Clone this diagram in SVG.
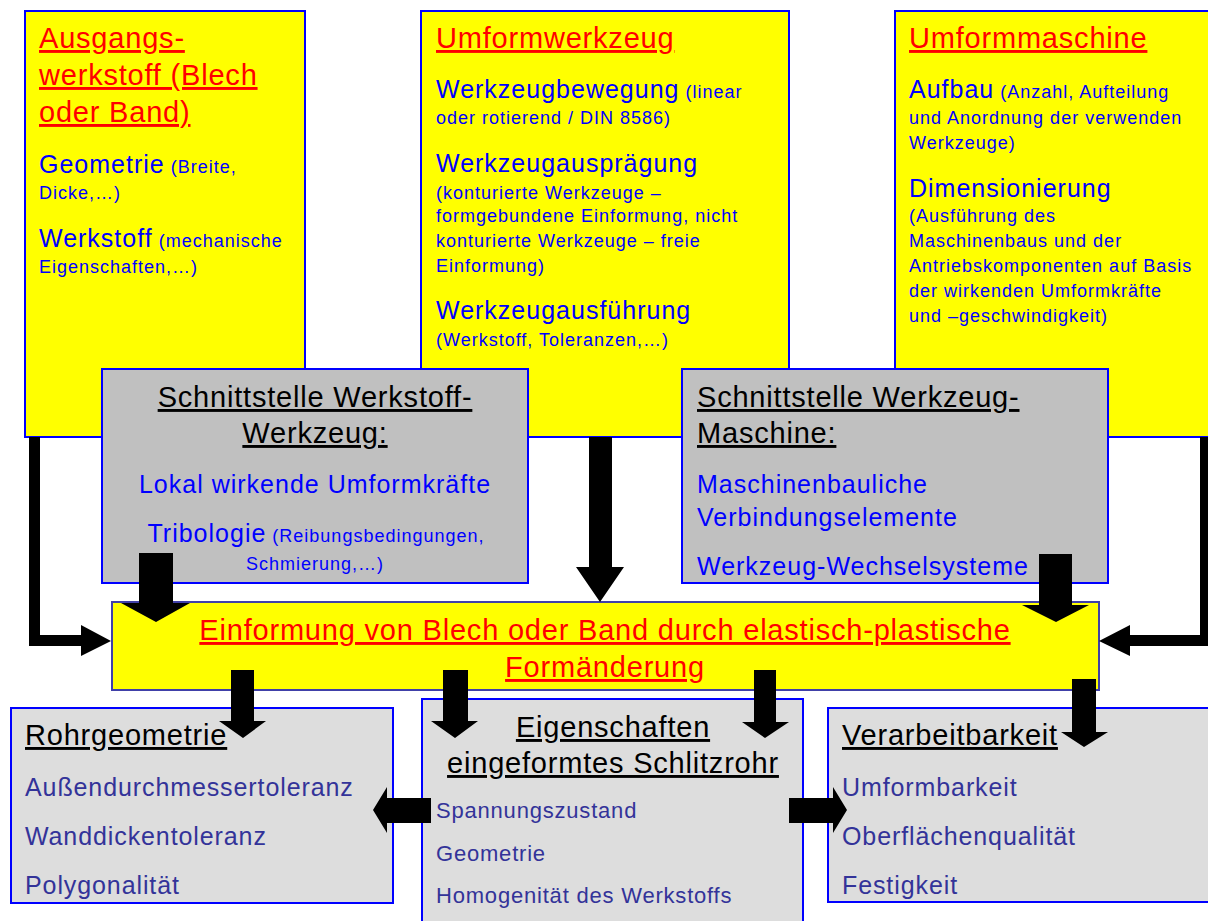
<svg xmlns="http://www.w3.org/2000/svg" width="1208" height="921" viewBox="0 0 1208 921">
  <style>
    text { font-family: "Liberation Sans", Arial, sans-serif; }
    .by { fill: #FFFF00; stroke: #0000FF; stroke-width: 2; }
    .bg { fill: #C0C0C0; stroke: #0000FF; stroke-width: 2; }
    .bl { fill: #DDDDDD; stroke: #0000FF; stroke-width: 2; }
    .bc { fill: #FFFF00; stroke: #4040A8; stroke-width: 2; }
    .h { font-size: 29px; letter-spacing: 0.8px; text-decoration: underline; }
    .red { fill: #FF0000; }
    .blk { fill: #000000; }
    .b { fill: #0000FF; }
    .m { font-size: 25px; letter-spacing: 1px; }
    .s { font-size: 18px; letter-spacing: 1px; }
    .l { fill: #333399; font-size: 25px; letter-spacing: 0.9px; }
    .ls { fill: #333399; font-size: 22px; letter-spacing: 0.8px; }
    .c { text-anchor: middle; }
    .arrow { fill: #000000; }
  </style>

  <!-- Upper row: material, tool, machine -->
  <g id="node-ausgangswerkstoff">
    <rect class="by" x="25" y="11" width="280" height="426"/>
    <text class="h red" x="39" y="48">Ausgangs-</text>
    <text class="h red" x="39" y="85">werkstoff (Blech</text>
    <text class="h red" x="39" y="122">oder Band)</text>
    <text class="b" x="39" y="173"><tspan class="m">Geometrie</tspan><tspan class="s"> (Breite,</tspan></text>
    <text class="b s" x="39" y="199">Dicke,…)</text>
    <text class="b" x="39" y="247"><tspan class="m">Werkstoff</tspan><tspan class="s"> (mechanische</tspan></text>
    <text class="b s" x="39" y="273">Eigenschaften,…)</text>
  </g>

  <g id="node-umformwerkzeug">
    <rect class="by" x="421" y="11" width="368" height="426"/>
    <text class="h red" x="436" y="48">Umformwerkzeug</text>
    <text class="b" x="436" y="98"><tspan class="m">Werkzeugbewegung</tspan><tspan class="s"> (linear</tspan></text>
    <text class="b s" x="436" y="124">oder rotierend / DIN 8586)</text>
    <text class="b m" x="436" y="172">Werkzeugausprägung</text>
    <text class="b s" x="436" y="199">(konturierte Werkzeuge –</text>
    <text class="b s" x="436" y="222">formgebundene Einformung, nicht</text>
    <text class="b s" x="436" y="247">konturierte Werkzeuge – freie</text>
    <text class="b s" x="436" y="272">Einformung)</text>
    <text class="b m" x="436" y="319">Werkzeugausführung</text>
    <text class="b s" x="436" y="346">(Werkstoff, Toleranzen,…)</text>
  </g>

  <g id="node-umformmaschine">
    <rect class="by" x="895" y="11" width="330" height="426"/>
    <text class="h red" x="909" y="48">Umformmaschine</text>
    <text class="b" x="909" y="98"><tspan class="m">Aufbau</tspan><tspan class="s"> (Anzahl, Aufteilung</tspan></text>
    <text class="b s" x="909" y="124">und Anordnung der verwenden</text>
    <text class="b s" x="909" y="149">Werkzeuge)</text>
    <text class="b m" x="909" y="197">Dimensionierung</text>
    <text class="b s" x="909" y="222">(Ausführung des</text>
    <text class="b s" x="909" y="247">Maschinenbaus und der</text>
    <text class="b s" x="909" y="272">Antriebskomponenten auf Basis</text>
    <text class="b s" x="909" y="297">der wirkenden Umformkräfte</text>
    <text class="b s" x="909" y="322">und –geschwindigkeit)</text>
  </g>

  <!-- Interfaces -->
  <g id="node-schnittstelle-werkstoff-werkzeug">
    <rect class="bg" x="102" y="369" width="426" height="214"/>
    <text class="h blk c" x="315" y="407">Schnittstelle Werkstoff-</text>
    <text class="h blk c" x="315" y="443">Werkzeug:</text>
    <text class="b m c" x="315" y="493">Lokal wirkende Umformkräfte</text>
    <text class="b c" x="316" y="542"><tspan class="m">Tribologie</tspan><tspan class="s"> (Reibungsbedingungen,</tspan></text>
    <text class="b s c" x="315" y="570">Schmierung,…)</text>
  </g>

  <g id="node-schnittstelle-werkzeug-maschine">
    <rect class="bg" x="682" y="369" width="426" height="214"/>
    <text class="h blk" x="697" y="407">Schnittstelle Werkzeug-</text>
    <text class="h blk" x="697" y="443">Maschine:</text>
    <text class="b m" x="697" y="493">Maschinenbauliche</text>
    <text class="b m" x="697" y="526">Verbindungselemente</text>
    <text class="b m" x="697" y="575">Werkzeug-Wechselsysteme</text>
  </g>

  <!-- Forming process -->
  <g id="node-einformung">
    <rect class="bc" x="112" y="602" width="987" height="88"/>
    <text class="h red c" x="605" y="640">Einformung von Blech oder Band durch elastisch-plastische</text>
    <text class="h red c" x="605" y="677">Formänderung</text>
  </g>

  <!-- Results -->
  <g id="node-rohrgeometrie">
    <rect class="bl" x="11" y="708" width="382" height="195"/>
    <text class="h blk" x="25" y="745">Rohrgeometrie</text>
    <text class="l" x="25" y="796">Außendurchmessertoleranz</text>
    <text class="l" x="25" y="845">Wanddickentoleranz</text>
    <text class="l" x="25" y="894">Polygonalität</text>
  </g>

  <g id="node-eigenschaften">
    <rect class="bl" x="422" y="699" width="381" height="235"/>
    <text class="h blk c" x="613" y="737">Eigenschaften</text>
    <text class="h blk c" x="613" y="773">eingeformtes Schlitzrohr</text>
    <text class="ls" x="436" y="818">Spannungszustand</text>
    <text class="ls" x="436" y="861">Geometrie</text>
    <text class="ls" x="436" y="903">Homogenität des Werkstoffs</text>
  </g>

  <g id="node-verarbeitbarkeit">
    <rect class="bl" x="828" y="708" width="392" height="194"/>
    <text class="h blk" x="842" y="745">Verarbeitbarkeit</text>
    <text class="l" x="842" y="796">Umformbarkeit</text>
    <text class="l" x="842" y="845">Oberflächenqualität</text>
    <text class="l" x="842" y="894">Festigkeit</text>
  </g>

  <!-- Block arrows -->
  <g id="connectors">
    <polygon class="arrow" points="29,437 40,437 40,635 81,635 81,625 111,641 81,656 81,646 29,646"/>
    <polygon class="arrow" points="1208,437 1208,646 1130,646 1130,656 1099,641 1130,625 1130,635 1200,635 1200,437"/>
    <polygon class="arrow" points="589,437 612,437 612,567 624,567 600,602 576,567 589,567"/>
    <polygon class="arrow" points="139,553 173,553 173,603 190,603 156,622 121,603 139,603"/>
    <polygon class="arrow" points="1039,554 1072,554 1072,605 1089,605 1056,622 1022,605 1039,605"/>
    <polygon class="arrow" points="231,670 254,670 254,721 266,721 243,738 219,721 231,721"/>
    <polygon class="arrow" points="443,670 468,670 468,721 478,721 455,738 431,721 443,721"/>
    <polygon class="arrow" points="754,670 776,670 776,722 789,722 765,738 742,722 754,722"/>
    <polygon class="arrow" points="1072,679 1096,679 1096,732 1108,732 1084,747 1061,732 1072,732"/>
    <polygon class="arrow" points="431,798 431,823 387,823 387,833 373,810 387,787 387,798"/>
    <polygon class="arrow" points="789,798 833,798 833,787 847,810 833,833 833,823 789,823"/>
  </g>
</svg>
